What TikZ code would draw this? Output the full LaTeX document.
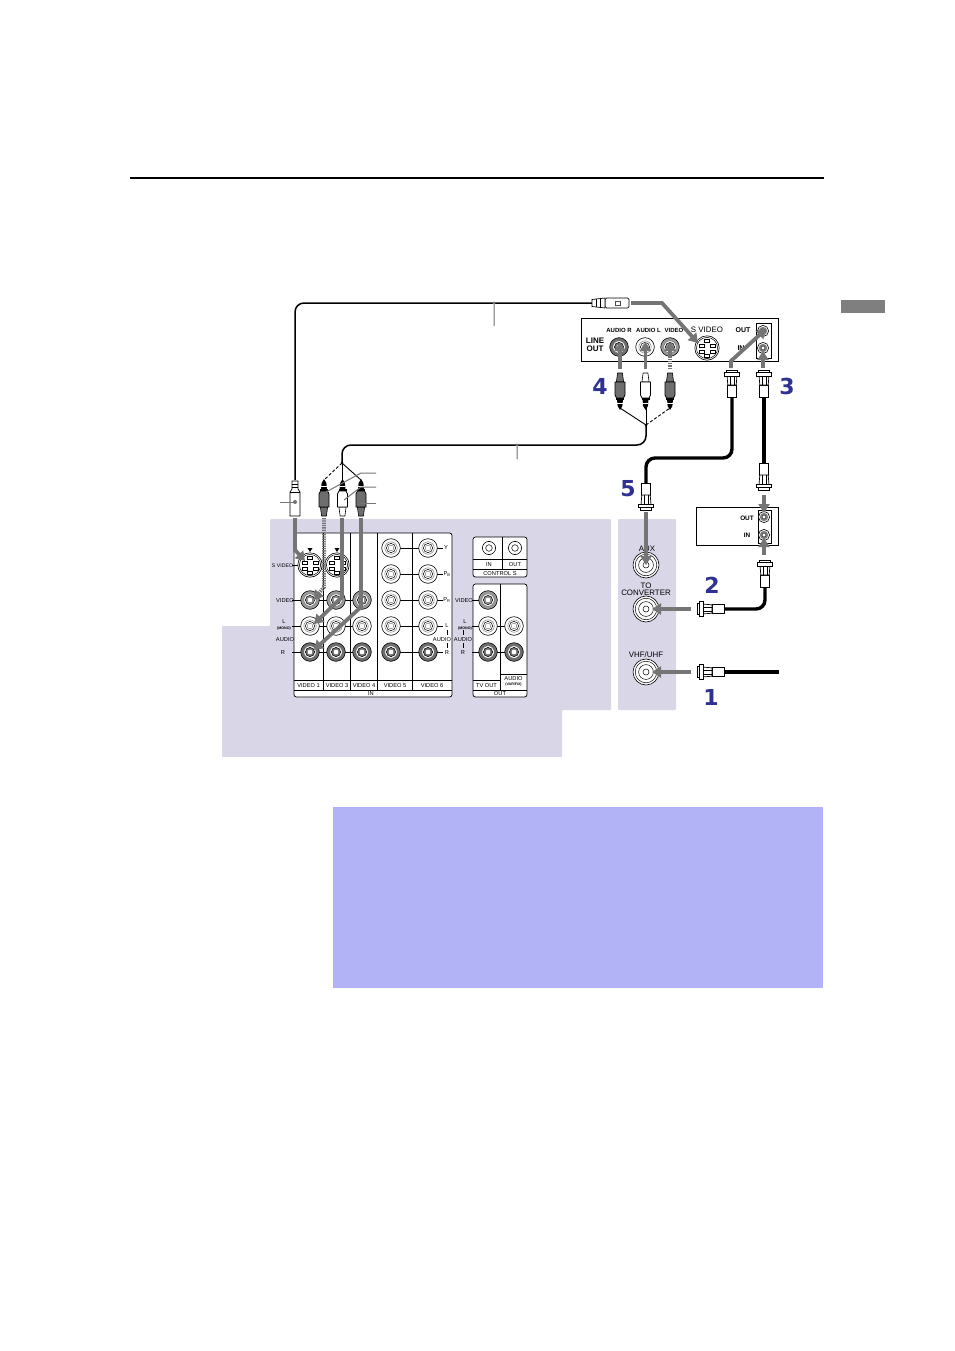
\documentclass[tikz,border=0pt]{standalone}
\usepackage{fontspec}
\setmainfont{Liberation Sans}
\newfontfamily\numfont{DejaVu Sans}
\usetikzlibrary{arrows.meta,calc}
\definecolor{panelbg}{HTML}{D9D6E8}
\definecolor{notebg}{HTML}{B2B3F6}
\definecolor{tabgray}{HTML}{7F7F7F}
\definecolor{arrowgray}{HTML}{757575}
\definecolor{numblue}{HTML}{2E3192}
\definecolor{jackgray}{HTML}{9A9A9A}
\definecolor{jackdark}{HTML}{6E6E6E}
\tikzset{
  lbl/.style={font=\fontsize{5.7}{6}\selectfont,inner sep=0pt,text=black},
  lblb/.style={font=\bfseries\fontsize{6}{7}\selectfont,inner sep=0pt},
  lblbig/.style={font=\fontsize{7.9}{8}\selectfont,inner sep=0pt},
  tiny/.style={font=\bfseries\fontsize{3.6}{4}\selectfont,inner sep=0pt},
  num/.style={font=\numfont\bfseries\fontsize{22}{22}\selectfont,text=numblue,inner sep=0pt},
  box/.style={draw=black,line width=0.9pt,fill=white},
  pan/.style={draw=black,line width=0.7pt,rounded corners=2.5pt},
  thin line/.style={draw=black,line width=0.7pt},
  cable/.style={draw=black,line width=1.5pt,rounded corners=9pt},
  fatcable/.style={draw=black,line width=3.4pt,rounded corners=9pt},
  flow/.style={draw=arrowgray,line width=3.8pt,-{Triangle[length=9pt,width=11pt]}},
  flowdot/.style={flow,dash pattern=on 1.3pt off 1pt},
  noarrow/.style={draw=arrowgray,line width=3.8pt},
  leader/.style={draw=arrowgray,line width=1pt},
  pics/rcajack/.style={code={
    \fill[#1,draw=black,line width=0.6pt] (0,0) circle (9.3);
    \fill[white,draw=black!70,line width=0.3pt] (0,0) circle (6.2);
    \fill[#1,draw=black,line width=0.5pt] (0,0) circle (4.6);
    \fill[white,draw=black!70,line width=0.3pt] (0,0) circle (2.8);
  }},
  pics/minijack/.style={code={
    \fill[white,draw=black,line width=0.6pt] (0,0) circle (6.6);
    \fill[white,draw=black,line width=0.5pt] (0,0) circle (3.3);
  }},
  pics/bigjack/.style={code={
    \fill[white,draw=black,line width=0.6pt] (0,0) circle (13);
    \draw[black,line width=0.5pt] (0,0) circle (10.8);
    \draw[black,line width=0.5pt] (0,0) circle (7.4);
    \draw[black,line width=0.5pt] (0,0) circle (3);
  }},
  pics/smalljack/.style={code={
    \fill[white,draw=black,line width=0.6pt] (0,0) circle (5.6);
    \fill[black!50] (0,0) circle (4.2);
    \fill[white,draw=black,line width=0.4pt] (0,0) circle (2);
  }},
  pics/svjack/.style={code={
    \fill[white,draw=black,line width=0.6pt] (0,0) circle (12.2);
    \draw[black,line width=0.5pt] (0,0) circle (10.6);
    \foreach \a/\b in {-3/-9,-8/-4,3/-4,-8/2,3/2,-3/6}{
      \draw[black,line width=0.6pt,fill=white] (\a,\b) rectangle ++(5,3);}
  }},
  pics/rcaplug/.style={code={
    \fill[#1,draw=black,line width=0.6pt] (-2.4,0) -- (2.4,0) -- (3.6,9) -- (-3.6,9) -- cycle;
    \fill[#1,draw=black,line width=0.8pt] (-5,9) -- (5,9) -- (5,22) -- (3.5,25) -- (-3.5,25) -- (-5,22) -- cycle;
    \fill[black] (-4,25) rectangle (4,27);
    \fill[black] (-2.9,27) -- (2.9,27) -- (2.4,33) -- (0,37) -- (-2.4,33) -- cycle;
    \draw[white,line width=0.4pt] (-2.7,30) -- (2.7,30);
  }},
  pics/coaxplug/.style={code={
    \draw[black,line width=0.7pt,fill=white] (-4.2,15) rectangle (4.2,27);
    \draw[black,line width=0.7pt,fill=white] (-5,5) -- (5,5) -- (4.2,15) -- (-4.2,15) -- cycle;
    \draw[black,line width=0.7pt,fill=white] (-7.2,2.5) rectangle (7.2,6);
    \draw[black,line width=0.7pt,fill=white] (-5.2,0) rectangle (5.2,2.5);
    \draw[black,line width=0.5pt] (-2,6) -- (-2,15) (2,6) -- (2,15);
  }}
}
\newcommand{\jk}[4]{\coordinate (#1) at (#2,#3); \pic at (#1) {rcajack=#4};}
\begin{document}
\begin{tikzpicture}[x=1pt,y=-1pt]
\useasboundingbox (0,0) rectangle (954,1351);
\fill[white] (0,0) rectangle (954,1351);
% page furniture
\draw[black,line width=1.4pt] (130,178) -- (824,178);
\fill[tabgray] (841,300) rectangle (885,313);
\fill[notebg] (333,807) rectangle (823,988);
% background panels
\fill[panelbg,rounded corners=1pt] (270,519) -- (611,519) -- (611,710) -- (562,710) -- (562,757) -- (222,757) -- (222,626) -- (270,626) -- cycle;
\fill[panelbg,rounded corners=1pt] (618,519) rectangle (676,710);

% IN panel
\fill[white,rounded corners=2.5pt] (294,533) rectangle (452,697);
\draw[pan] (294,533) rectangle (452,697);
\foreach \x in {323,350,377,412} \draw[thin line] (\x,533) -- (\x,690);
\draw[thin line] (294,680) -- (452,680) (294,690) -- (452,690);
\draw[thin line] (292,565) -- (300,565);
\foreach \y in {600,626,652} \draw[thin line] (292,\y) -- (362,\y);
\foreach \y in {548,574,600,626,652} \draw[thin line] (391,\y) -- (443,\y);
\draw[thin line] (447,630) -- (447,635) (447,643) -- (447,648);
\pic at (310,565) {svjack};
\pic at (337,565) {svjack};
\coordinate (sv1) at (305,561);
\fill[black] (310,552) -- (307.5,548) -- (312.5,548) -- cycle;
\fill[black] (337,552) -- (334.5,548) -- (339.5,548) -- cycle;
\jk{v1}{310}{600}{jackgray}
\jk{v3}{336}{600}{jackgray}
\jk{v4}{362}{600}{jackgray}
\jk{l1}{310}{626}{white}
\jk{l3}{336}{626}{white}
\jk{l4}{362}{626}{white}
\jk{r1}{310}{652}{jackdark}
\jk{r3}{336}{652}{jackdark}
\jk{r4}{362}{652}{jackdark}
\foreach \c in {391,428}{
  \foreach \y in {548,574,600,626}{\pic at (\c,\y) {rcajack=white};}
  \pic at (\c,652) {rcajack=jackdark};
}
\node[lbl,font=\fontsize{5.2}{6}\selectfont] (tsv) at (282.5,565.5) {S VIDEO};
\node[lbl] (tv) at (285,600.5) {VIDEO};
\node[lbl] (tl) at (284,622) {L};
\node[tiny] (tm) at (284,629) {(MONO)};
\node[lbl] (ta) at (285,639.5) {AUDIO};
\node[lbl] (tr) at (283,652.5) {R};
\node[lbl] (ty) at (446,548) {Y};
\node[lbl] (tpb) at (447,574) {P\textsubscript{B}};
\node[lbl] (tpr) at (447,600) {P\textsubscript{R}};
\node[lbl] (tl6) at (447,626) {L};
\node[lbl] (ta6) at (442,639.5) {AUDIO};
\node[lbl] (tr6) at (447,652.5) {R};
\node[lbl] (bv1) at (308.5,685.2) {VIDEO 1};
\node[lbl] (bv3) at (337,685.2) {VIDEO 3};
\node[lbl] (bv4) at (364,685.2) {VIDEO 4};
\node[lbl] (bv5) at (395,685.2) {VIDEO 5};
\node[lbl] (bv6) at (432,685.2) {VIDEO 6};
\node[lbl] (bin) at (371,694) {IN};

% CONTROL S
\draw[pan,fill=white] (473,537) rectangle (527,577);
\draw[thin line] (502,537) -- (502,569) (473,559) -- (527,559) (473,569) -- (527,569);
\pic at (489,548) {minijack};
\pic at (515,548) {minijack};
\node[lbl] (cin) at (489,564.5) {IN};
\node[lbl] (cout) at (515,564.5) {OUT};
\node[lbl] (cs) at (500,573.3) {CONTROL S};

% OUT panel
\draw[pan,fill=white] (473,584) rectangle (527,697);
\draw[thin line] (500,584) -- (500,690) (473,680) -- (500,680) (500,674) -- (527,674) (473,690) -- (527,690);
\foreach \y in {600,626,652} \draw[thin line] (472,\y) -- (488,\y);
\foreach \y in {626,652} \draw[thin line] (488,\y) -- (514,\y);
\draw[thin line] (463,630) -- (463,635) (463,643) -- (463,648);
\pic at (488,600) {rcajack=jackgray};
\pic at (488,626) {rcajack=white};
\pic at (488,652) {rcajack=jackdark};
\pic at (514,626) {rcajack=white};
\pic at (514,652) {rcajack=jackdark};
\node[lbl] (ov) at (464,600.5) {VIDEO};
\node[lbl] (ol) at (465,622) {L};
\node[tiny] (om) at (465,629) {(MONO)};
\node[lbl] (oa) at (463,639.5) {AUDIO};
\node[lbl] (or) at (463,652.5) {R};
\node[lbl] (otv) at (486.5,685.3) {TV OUT};
\node[lbl] (oau) at (513.5,678.2) {AUDIO};
\node[tiny] (ovf) at (513.5,684.3) {(VAR/FIX)};
\node[lbl] (oout) at (500,694) {OUT};

% Right panel jacks
\coordinate (aux) at (646,565);
\coordinate (conv) at (646,609);
\coordinate (vhf) at (646,672);
\pic at (aux) {bigjack};
\pic at (conv) {bigjack};
\pic at (vhf) {bigjack};
\node[lblbig] (taux) at (647,549) {AUX};
\node[lblbig] (tto) at (646,586) {TO};
\node[lblbig] (tcon) at (646,593) {CONVERTER};
\node[lblbig] (tvhf) at (646,655) {VHF/UHF};

% Top device
\draw[box] (581,318) rectangle (778,361);
\coordinate (ar) at (619,347);
\coordinate (al) at (645,347);
\coordinate (vd) at (670,347);
\coordinate (sv) at (707,348);
\coordinate (svtip) at (698,343);
\pic at (ar) {rcajack=jackdark};
\pic at (al) {rcajack=white};
\pic at (vd) {rcajack=jackgray};
\pic at (sv) {svjack};
\node[lblb] (tar) at (619,330.5) {AUDIO R};
\node[lblb] (tal) at (648.5,330.5) {AUDIO L};
\node[lblb] (tvd) at (674,330.5) {VIDEO};
\node[lblbig] (tsv2) at (707,330) {S VIDEO};
\node[lblb,font=\bfseries\fontsize{7}{8}\selectfont] (tout) at (743,330.5) {OUT};
\node[lblb,font=\bfseries\fontsize{7}{8}\selectfont] (tin) at (741,348) {IN};
\node[lblb,font=\bfseries\fontsize{8}{9}\selectfont,align=center] (tlo) at (595,345) {LINE\\[-1.5pt]OUT};
\draw[black,line width=0.8pt,fill=white] (756,323) rectangle (771,358);
\coordinate (vo) at (763,331);
\coordinate (vi) at (763,348);
\pic at (vo) {smalljack};
\pic at (vi) {smalljack};

% Second device
\draw[box] (696,507) rectangle (778,545);
\draw[black,line width=0.8pt,fill=white] (758,510) rectangle (771,543);
\coordinate (co) at (764,517);
\coordinate (ci) at (764,535);
\pic at (co) {smalljack};
\pic at (ci) {smalljack};
\node[lblb,font=\bfseries\fontsize{6.4}{7}\selectfont] (tco) at (747,518) {OUT};
\node[lblb,font=\bfseries\fontsize{6.4}{7}\selectfont] (tci) at (747,535) {IN};

% cables
\coordinate (svp) at (592,303);
\coordinate (svl) at (295,480);
\coordinate (hub2) at (342,463);
\coordinate (hub1) at (646,425);
\coordinate (tick1) at (494,303);
\coordinate (tick2) at (517,445);
\draw[cable] (svp) -- (295,303) -- (svl);
\draw[cable] (hub1) -- (646,445) -- (342,445) -- (hub2);
\draw[leader,fill=arrowgray] (tick1) circle (1) -- (494,326);
\draw[leader,fill=arrowgray] (tick2) circle (1) -- (517,459);
\draw[black,line width=0.9pt] (hub1) -- (620,408);
\draw[black,line width=0.9pt] (hub1) -- (646,408);
\draw[black,line width=0.9pt,dash pattern=on 3pt off 2pt] (hub1) -- (670,408);
\fill[black] (hub1) circle (1.3);
\draw[black,line width=0.9pt,dash pattern=on 3pt off 2pt] (hub2) -- (324,480);
\draw[black,line width=0.9pt] (hub2) -- (342,480);
\draw[black,line width=0.9pt] (hub2) -- (361,480);
\fill[black] (hub2) circle (1.3);

% fat coax cables
\draw[fatcable] (732,395) -- (732,458) -- (646,458) -- (646,485);
\draw[fatcable] (764,395) -- (764,465);
\draw[fatcable] (722,609) -- (765,609) -- (765,583);
\draw[line width=3.4pt,black] (723,672) -- (779,672);

% RCA plugs
\pic at (620,373) {rcaplug=jackdark};
\pic at (645.5,373) {rcaplug=white};
\pic at (670,373) {rcaplug=jackdark};
\pic[rotate=180] at (324,516) {rcaplug=jackdark};
\pic[rotate=180] at (342.5,516) {rcaplug=white};
\pic[rotate=180] at (361,516) {rcaplug=jackdark};

% Coax plugs
\pic at (732,370) {coaxplug};
\pic at (764,370) {coaxplug};
\pic[rotate=180] at (646,510) {coaxplug};
\pic[rotate=180] at (764,490) {coaxplug};
\pic at (765,560) {coaxplug};
\pic[rotate=90] at (697,609) {coaxplug};
\pic[rotate=90] at (697,672) {coaxplug};

% S-video plugs
\draw[black,line width=0.7pt,fill=white,rounded corners=1.5pt] (605,298) rectangle (629,308);
\draw[black,line width=0.7pt,fill=white] (592,299.5) -- (605,298) -- (605,308) -- (592,306.5) -- cycle;
\draw[black,line width=0.5pt] (596,299) -- (596,307) (600,298.5) -- (600,307.5);
\draw[black!70,line width=0.5pt] (615,301) rectangle (620,305);
\draw[black,line width=0.7pt,fill=white] (292,481) -- (298,481) -- (298,489) -- (300,492) -- (300,516) -- (290,516) -- (290,492) -- (292,489) -- cycle;
\draw[black,line width=0.5pt] (292,484) -- (298,484) (292,487) -- (298,487) (290,492) -- (300,492);
\node[inner sep=0pt,minimum size=0pt] (svdot) at (295,502) {};
\fill[arrowgray] (svdot) circle (2);
\draw[leader] (280,502) -- (svdot);

% plug leaders
\coordinate (lp1) at (326,492);
\coordinate (lp2) at (344,500);
\coordinate (lp3) at (361,503);
\draw[leader] (lp1) -- (361,473) -- (376,473);
\draw[leader] (lp2) -- (361,487) -- (376,487);
\draw[leader] (lp3) -- (376,503);

% flow arrows
\draw[flow] (631,303) -- (662,303) -- (svtip);
\draw[flow] (620,369) -- (620,342);
\draw[flow] (645.5,369) -- (645.5,342);
\draw[noarrow,dash pattern=on 1.3pt off 1pt] (670,369) -- (670,356);
\draw[flow] (670,356) -- (670,342);
\draw[flow] (731,368) -- (731,361) -- (766,329);
\draw[flow] (763,368) -- (763,351);
\draw[flow] (764,495) -- (764,513);
\draw[flow] (764,555) -- (764,538);
\draw[flow] (646,512) -- (aux);
\draw[flow] (691,609) -- (652,609);
\draw[flow] (691,672) -- (652,672);
\draw[flow] (295,518) -- (295,550) -- (sv1);
\draw[flowdot] (324,518) -- (324,587) -- (314,600);
\draw[flow] (342,518) -- (342,597) -- (314,624);
\draw[flow] (361,518) -- (361,607) -- (314,650);

% numbers
\node[num] (n4) at (600,386) {4};
\node[num] (n3) at (787,386) {3};
\node[num] (n5) at (628,489) {5};
\node[num] (n2) at (712,585) {2};
\node[num] (n1) at (711,697) {1};
\end{tikzpicture}
\end{document}
